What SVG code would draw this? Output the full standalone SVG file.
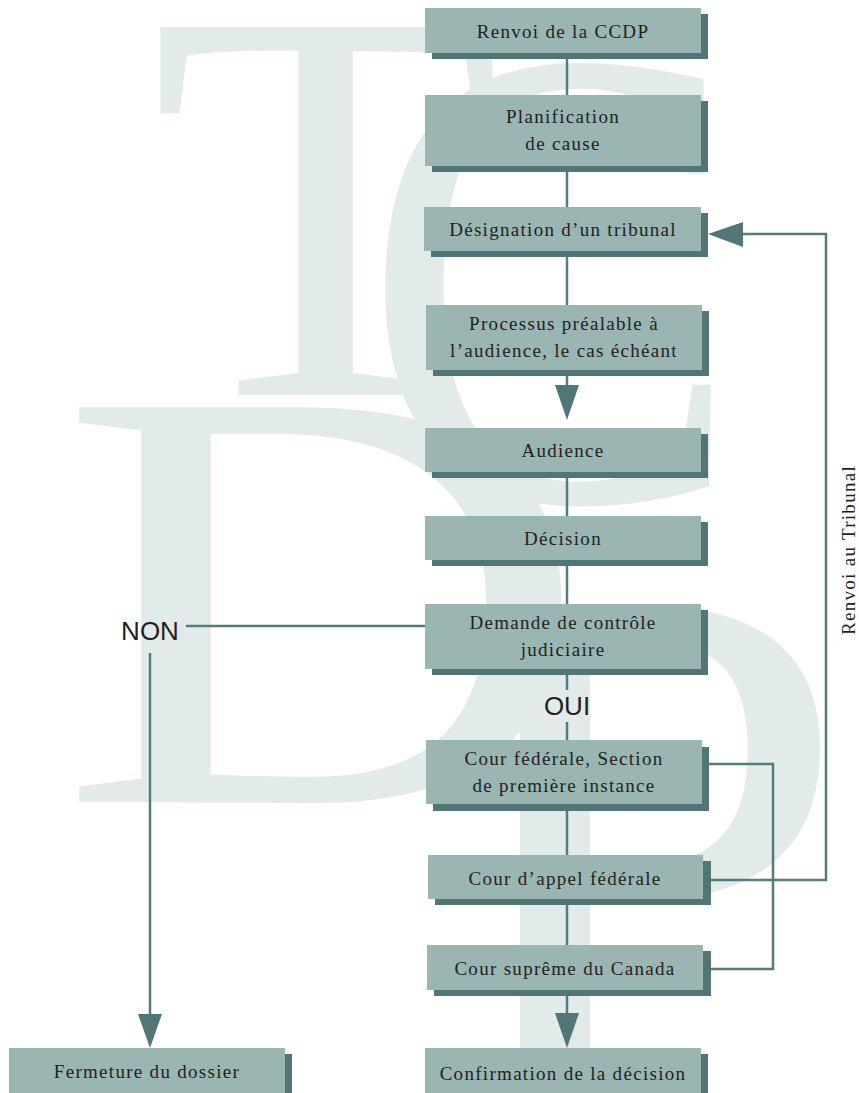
<svg xmlns="http://www.w3.org/2000/svg" width="859" height="1093" viewBox="0 0 859 1093">
<defs>
<style>
.face{fill:#9bb5b3}
.shadow{fill:#507775}
.lbl{font-family:"Liberation Serif",serif;font-size:19px;letter-spacing:1.3px;fill:#231f20;text-anchor:middle}
.big{font-family:"Liberation Sans",sans-serif;font-size:26px;fill:#231f20;text-anchor:middle}
.wm{font-family:"Liberation Serif",serif;font-size:100px;fill:#e3ebea}
.ln{fill:none;stroke:#547c7a;stroke-width:2.5}
.ah{fill:#507775}
</style>
</defs>
<rect width="859" height="1093" fill="#ffffff"/>
<g id="watermark">
<text class="wm" transform="translate(150,395) scale(5.76,5.62)">T</text>
<text class="wm" transform="translate(362,500) scale(5.7,6.6)">C</text>
<text class="wm" transform="translate(58,802) scale(7.38,6.03)">D</text>
<text class="wm" transform="translate(436,1090) scale(7.44,7.4)">P</text>
</g>
<g id="connectors">
<line class="ln" x1="567" y1="53" x2="567" y2="95"/>
<line class="ln" x1="567" y1="166" x2="567" y2="207"/>
<line class="ln" x1="567" y1="251" x2="567" y2="305"/>
<line class="ln" x1="567" y1="370" x2="567" y2="388"/>
<polygon class="ah" points="555,385 579,385 567,420"/>
<line class="ln" x1="567" y1="472" x2="567" y2="516"/>
<line class="ln" x1="567" y1="560" x2="567" y2="604"/>
<line class="ln" x1="567" y1="669" x2="567" y2="690"/>
<line class="ln" x1="567" y1="722" x2="567" y2="740"/>
<line class="ln" x1="567" y1="804" x2="567" y2="855"/>
<line class="ln" x1="567" y1="899" x2="567" y2="945"/>
<line class="ln" x1="567" y1="990" x2="567" y2="1016"/>
<polygon class="ah" points="555,1013 579,1013 567,1048"/>
<line class="ln" x1="186" y1="626" x2="425" y2="626"/>
<line class="ln" x1="150" y1="653" x2="150" y2="1017"/>
<polygon class="ah" points="138,1014 162,1014 150,1048"/>
<polyline class="ln" points="708,764 773,764 773,969 710,969"/>
<polyline class="ln" points="710,880 826,880 826,234 740,234"/>
<polygon class="ah" points="743,222 743,247 708,234"/>
<text class="big" x="150" y="640">NON</text>
<text class="big" x="567" y="715">OUI</text>
<text class="lbl" transform="translate(855,550) rotate(-90)">Renvoi au Tribunal</text>
</g>
<g id="n1"><rect class="shadow" x="432" y="14" width="276" height="45"/><rect class="face" x="425" y="8" width="276" height="45"/><text class="lbl" x="563" y="38">Renvoi de la CCDP</text></g>
<g id="n2"><rect class="shadow" x="432" y="101" width="276" height="71"/><rect class="face" x="425" y="95" width="276" height="71"/><text class="lbl" x="563" y="123">Planification</text><text class="lbl" x="563" y="150">de cause</text></g>
<g id="n3"><rect class="shadow" x="431" y="213" width="277" height="44"/><rect class="face" x="424" y="207" width="277" height="44"/><text class="lbl" x="563" y="236">Désignation d’un tribunal</text></g>
<g id="n4"><rect class="shadow" x="433" y="311" width="276" height="65"/><rect class="face" x="426" y="305" width="276" height="65"/><text class="lbl" x="564" y="330">Processus préalable à</text><text class="lbl" x="564" y="357">l’audience, le cas échéant</text></g>
<g id="n5"><rect class="shadow" x="432" y="434" width="276" height="44"/><rect class="face" x="425" y="428" width="276" height="44"/><text class="lbl" x="563" y="457">Audience</text></g>
<g id="n6"><rect class="shadow" x="432" y="522" width="276" height="44"/><rect class="face" x="425" y="516" width="276" height="44"/><text class="lbl" x="563" y="545">Décision</text></g>
<g id="n7"><rect class="shadow" x="432" y="610" width="276" height="65"/><rect class="face" x="425" y="604" width="276" height="65"/><text class="lbl" x="563" y="629">Demande de contrôle</text><text class="lbl" x="563" y="656">judiciaire</text></g>
<g id="n8"><rect class="shadow" x="433" y="747" width="276" height="64"/><rect class="face" x="426" y="740" width="276" height="64"/><text class="lbl" x="564" y="765">Cour fédérale, Section</text><text class="lbl" x="564" y="792">de première instance</text></g>
<g id="n9"><rect class="shadow" x="435" y="861" width="276" height="44"/><rect class="face" x="428" y="855" width="275" height="44"/><text class="lbl" x="565" y="885">Cour d’appel fédérale</text></g>
<g id="n10"><rect class="shadow" x="434" y="951" width="277" height="45"/><rect class="face" x="427" y="945" width="276" height="45"/><text class="lbl" x="565" y="975">Cour suprême du Canada</text></g>
<g id="n11"><rect class="shadow" x="432" y="1054" width="276" height="50"/><rect class="face" x="425" y="1048" width="276" height="50"/><text class="lbl" x="563" y="1080">Confirmation de la décision</text></g>
<g id="n12"><rect class="shadow" x="16" y="1054" width="276" height="50"/><rect class="face" x="9" y="1048" width="276" height="50"/><text class="lbl" x="147" y="1078">Fermeture du dossier</text></g>
</svg>
